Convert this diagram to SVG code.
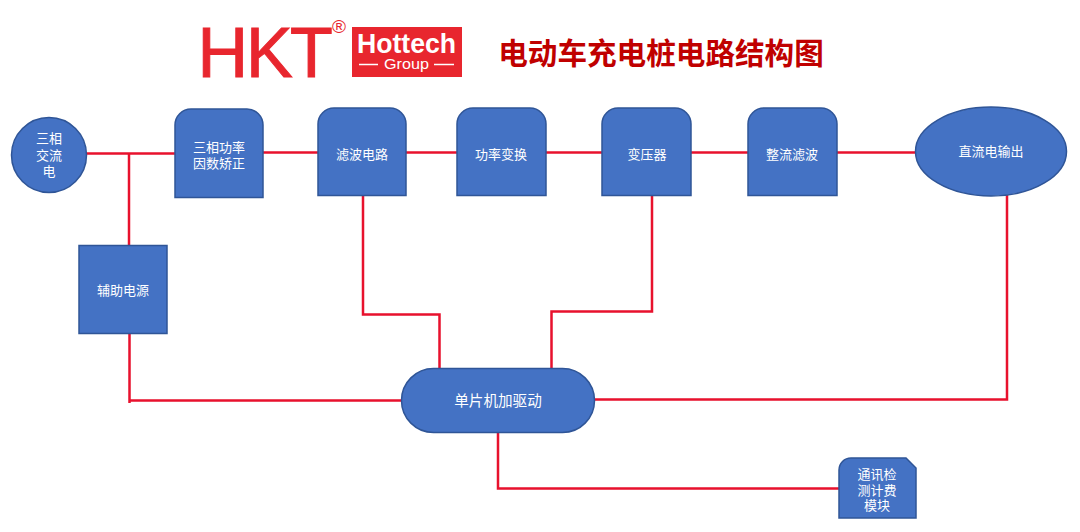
<svg xmlns="http://www.w3.org/2000/svg" width="1080" height="532" viewBox="0 0 1080 532">
<style>
.n{fill:#4472c4;stroke:#2f5597;stroke-width:1.5}
.t{font-family:"Noto Sans CJK SC","Liberation Sans",sans-serif;font-size:13px;fill:#fff;text-anchor:middle}
.c{fill:none;stroke:#e8112d;stroke-width:2.5}
.l{fill:#e8262e}
.f{font-family:"Liberation Sans",sans-serif}
</style>
<rect width="1080" height="532" fill="#fff"/>
<g id="logo">
<text class="f l" x="197.500 246 290" y="77" font-size="70" stroke="#e8262e" stroke-width="1">HKT</text>
<text class="f l" x="339" y="33" font-size="19" text-anchor="middle">®</text>
<rect class="l" x="352" y="27" width="110" height="50"/>
<text class="f" x="357" y="53" font-size="27" font-weight="bold" fill="#fff" textLength="99" lengthAdjust="spacingAndGlyphs">Hottech</text>
<text class="f" x="384" y="69" font-size="15.500" fill="#fff" textLength="45" lengthAdjust="spacingAndGlyphs">Group</text>
<path d="M359 64.500H378M434 64.500H454" stroke="#fff" stroke-width="1.500"/>
</g>
<text id="title" x="661" y="64" font-family="Noto Sans CJK SC,sans-serif" font-size="29.600" font-weight="bold" fill="#c00000" text-anchor="middle">电动车充电桩电路结构图</text>
<g id="connectors">
<path class="c" d="M84 153.500H176"/>
<path class="c" d="M129 153.500V246"/>
<path class="c" d="M262 152.500H318"/>
<path class="c" d="M406 152.500H458"/>
<path class="c" d="M545 152.500H602"/>
<path class="c" d="M690 152.500H748"/>
<path class="c" d="M836 152.500H916"/>
<path class="c" d="M363 196V314.500H439.500V369"/>
<path class="c" d="M652 196V311.500H551.500V369"/>
<path class="c" d="M129.500 334V403M129.500 400.500H402"/>
<path class="c" d="M594 399.500H1007V195"/>
<path class="c" d="M498 432V488.500H839"/>
</g>
<g id="n1"><circle class="n" cx="49" cy="155" r="37.500"/><text class="t"><tspan x="49" y="143">三相</tspan><tspan x="49" y="160">交流</tspan><tspan x="49" y="176">电</tspan></text></g>
<g id="n2"><path class="n" d="M175 197.500V125a16 16 0 0 1 16-16h56a16 16 0 0 1 16 16V197.500Z"/><text class="t"><tspan x="219" y="152">三相功率</tspan><tspan x="219" y="168">因数矫正</tspan></text></g>
<g id="n3"><path class="n" d="M318 195.500V124a16 16 0 0 1 16-16h56a16 16 0 0 1 16 16V195.500Z"/><text class="t" x="362" y="159">滤波电路</text></g>
<g id="n4"><path class="n" d="M457 195.500V124a16 16 0 0 1 16-16h57a16 16 0 0 1 16 16V195.500Z"/><text class="t" x="501" y="159">功率变换</text></g>
<g id="n5"><path class="n" d="M602 195.500V124a16 16 0 0 1 16-16h57a16 16 0 0 1 16 16V195.500Z"/><text class="t" x="647" y="159">变压器</text></g>
<g id="n6"><path class="n" d="M748 195.500V124a16 16 0 0 1 16-16h57a16 16 0 0 1 16 16V195.500Z"/><text class="t" x="792" y="159">整流滤波</text></g>
<g id="n7"><ellipse class="n" cx="991" cy="151.500" rx="75.500" ry="44.500"/><text class="t" x="991" y="156">直流电输出</text></g>
<g id="n8"><rect class="n" x="79" y="245.500" width="88" height="88"/><text class="t" x="123" y="295">辅助电源</text></g>
<g id="n9"><rect class="n" x="401.500" y="368.500" width="193" height="64" rx="32"/><text class="t" x="498" y="406" style="font-size:14.600px">单片机加驱动</text></g>
<g id="n10"><path class="n" d="M839 518V470a12 12 0 0 1 12-12H906L916 468V518Z"/><text class="t"><tspan x="877" y="479">通讯检</tspan><tspan x="877" y="495">测计费</tspan><tspan x="877" y="510">模块</tspan></text></g>
</svg>
